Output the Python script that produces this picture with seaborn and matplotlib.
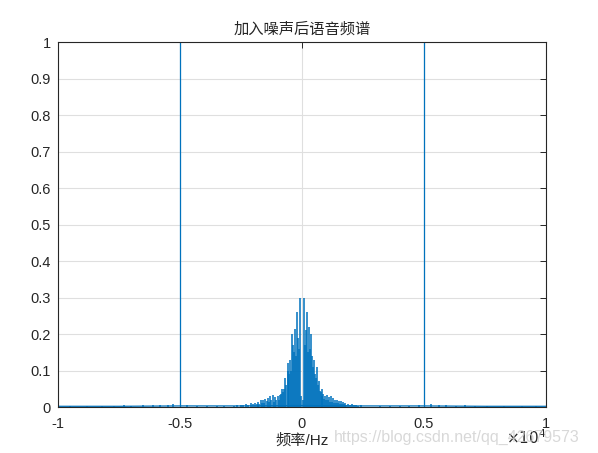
import numpy as np
import pandas as pd
import seaborn as sns
import matplotlib
matplotlib.use('Agg')
import matplotlib.pyplot as plt
from matplotlib.ticker import FuncFormatter, FormatStrFormatter

# 正频率侧谱线 (Hz) 与幅值
f_pos = [40, 80, 120, 160, 200, 240, 280, 320, 360, 400, 440, 480, 520, 560, 600,
         640, 680, 720, 760, 800, 840, 880, 920, 960, 1000, 1040, 1080, 1120, 1160,
         1200, 1240, 1280, 1320, 1360, 1400, 1440, 1480, 1520, 1560, 1600, 1640,
         1680, 1720, 1760, 1800, 1880, 1960, 2040, 2120, 2200, 2300, 2400]
a_pos = [0.02, 0.30, 0.17, 0.21, 0.26, 0.15, 0.22, 0.16, 0.20, 0.14, 0.11, 0.13,
         0.09, 0.08, 0.11, 0.06, 0.07, 0.045, 0.04, 0.05, 0.03, 0.035, 0.022, 0.03,
         0.018, 0.033, 0.02, 0.028, 0.015, 0.03, 0.014, 0.025, 0.012, 0.018, 0.01,
         0.02, 0.01, 0.017, 0.008, 0.016, 0.008, 0.014, 0.007, 0.012, 0.006, 0.009,
         0.006, 0.008, 0.005, 0.006, 0.004, 0.005]

# 负频率侧谱线
f_neg = [-40, -100, -140, -180, -205, -240, -275, -320, -360, -410, -450, -480,
         -520, -560, -590, -640, -685, -720, -760, -800, -850, -900, -950, -1000,
         -1050, -1100, -1150, -1200, -1250, -1300, -1350, -1400, -1450, -1500,
         -1550, -1600, -1650, -1700, -1750, -1800, -1850, -1910, -2000, -2100,
         -2200, -2300, -2400, -2500, -2650, -2800]
a_neg = [0.03, 0.30, 0.16, 0.19, 0.26, 0.14, 0.215, 0.15, 0.17, 0.20, 0.10, 0.13,
         0.09, 0.10, 0.12, 0.06, 0.08, 0.05, 0.04, 0.05, 0.035, 0.033, 0.02, 0.03,
         0.018, 0.028, 0.015, 0.032, 0.02, 0.03, 0.014, 0.025, 0.016, 0.022, 0.012,
         0.02, 0.01, 0.018, 0.009, 0.015, 0.008, 0.012, 0.008, 0.01, 0.006, 0.008,
         0.005, 0.006, 0.005, 0.004]

# 噪声：±5 kHz 处的单频分量与零星小峰
f_tone = [-5000, 5000]
a_tone = [1.3, 1.3]
f_noise = [-9500, -8800, -8200, -7700, -7300, -7000, -6500, -6100, -5800, -5500,
           -5300, -4700, -4300, -3900, -3500, -3200, 3200, 3600, 4000, 4400, 4800,
           5300, 5600, 5900, 6300, 6700, 7100, 7600, 8300, 9000, 9600]
a_noise = [0.002, 0.003, 0.003, 0.004, 0.005, 0.004, 0.005, 0.006, 0.005, 0.006,
           0.007, 0.006, 0.004, 0.004, 0.003, 0.004, 0.004, 0.003, 0.004, 0.003,
           0.006, 0.008, 0.006, 0.005, 0.004, 0.005, 0.003, 0.003, 0.002, 0.003,
           0.002]
f_floor = [-10000, -7500, -5000, -2500, 0, 2500, 5000, 7500, 10000]
a_floor = [0.002, 0.002, 0.003, 0.003, 0.004, 0.003, 0.003, 0.002, 0.002]

sns.set_style('white')
plt.rcParams['font.family'] = ['Liberation Sans', 'Noto Sans CJK SC', 'DejaVu Sans']
plt.rcParams['axes.unicode_minus'] = False

matlab_blue = '#0072BD'
fig = plt.figure(figsize=(5.98, 4.53), dpi=100)
ax = fig.add_axes([0.097, 0.1015, 0.816, 0.8055])

spec = pd.DataFrame({'f': f_neg + f_pos + f_noise,
                     'a': a_neg + a_pos + a_noise})
ax.vlines(spec['f'], 0, spec['a'], color=matlab_blue, linewidth=1.1)
ax.vlines(f_tone, 0, a_tone, color=matlab_blue, linewidth=0.9)
sns.lineplot(x=f_floor, y=a_floor, ax=ax, color=matlab_blue, linewidth=0.9)

ax.set_xlim(-10000, 10000)
ax.set_ylim(0, 1)
ax.set_xticks([-10000, -5000, 0, 5000, 10000])
ax.set_yticks(np.arange(0, 1.01, 0.1))
ax.yaxis.set_major_formatter(FormatStrFormatter('%g'))
ax.xaxis.set_major_formatter(FuncFormatter(lambda v, p: '%g' % (v / 1e4)))

ax.grid(True, color='#dfdfdf', linewidth=0.8)
ax.set_axisbelow(True)
for s in ax.spines.values():
    s.set_color('#262626')
    s.set_linewidth(0.8)
ax.tick_params(direction='in', top=True, right=True, length=4, width=0.7,
               labelsize=10.5, colors='#262626', labelcolor='#262626')
ax.tick_params(axis='x', pad=7)
ax.tick_params(axis='y', pad=5)

ax.set_title('加入噪声后语音频谱', fontsize=11, color='#262626', pad=6)
ax.set_xlabel('频率/Hz', fontsize=11, color='#262626', labelpad=2)

fig.text(0.97, 0.035, 'https://blog.csdn.net/qq_42679573', ha='right', va='center',
         fontsize=11.5, color='#cfcfcf', alpha=0.8)
ax.text(1.0, -0.085, r'$\times10^{4}$', transform=ax.transAxes, ha='right',
        va='center', fontsize=11, color='#262626')

fig.savefig('out.png', dpi=100)
